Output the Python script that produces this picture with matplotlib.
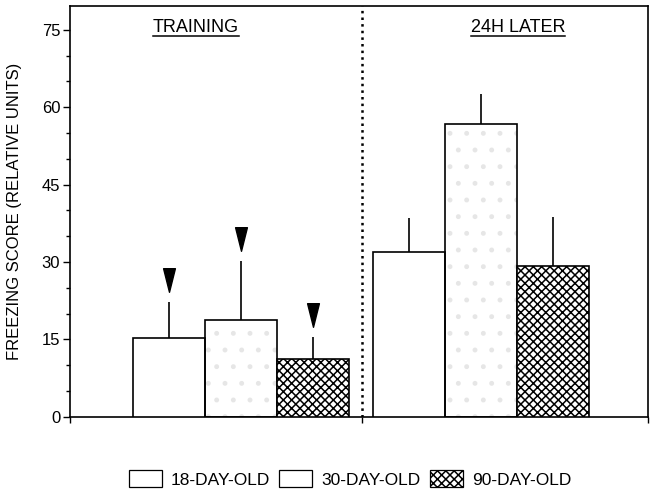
import numpy as np
import matplotlib
matplotlib.use('Agg')
import matplotlib.pyplot as plt
from matplotlib.path import Path
from matplotlib.patches import Patch
from matplotlib.lines import Line2D
from matplotlib.transforms import IdentityTransform

#data
groups = ['TRAINING', '24H LATER']
ages = ['18-DAY-OLD', '30-DAY-OLD', '90-DAY-OLD']
training_mean = [15.2, 18.7, 11.2]
training_err = [7.1, 11.5, 4.3]
later_mean = [31.9, 56.7, 29.2]
later_err = [6.6, 5.8, 9.6]

plt.rcParams['font.family'] = ['Liberation Sans', 'DejaVu Sans']
plt.rcParams['hatch.linewidth'] = 1.1

fig = plt.figure(figsize=(6.53, 4.90), dpi=100)
ax = fig.add_axes([70/653, 1-416.7/490, 578/653, 410.7/490])

#bar positions
x_train = np.arange(3)
x_later = np.arange(3) + 3.33
hatches = [None, '.', 'xxxx']
stipple = '#e6e6e6'

def draw_bars(xs, means, errs):
    for i in range(3):
        if i == 1:
            # faint stipple underneath, then black outline on top
            ax.bar(xs[i], means[i], width=1.0, color='white', hatch='.',
                   edgecolor=stipple, linewidth=0, zorder=2)
            ax.bar(xs[i], means[i], width=1.0, fill=False,
                   edgecolor='black', linewidth=1.2, zorder=3)
        else:
            ax.bar(xs[i], means[i], width=1.0, color='white',
                   hatch=hatches[i], edgecolor='black',
                   linewidth=1.2, zorder=3)
        ax.vlines(xs[i], means[i], means[i] + errs[i], color='black',
                  linewidth=1.2, zorder=3)

draw_bars(x_train, training_mean, training_err)
draw_bars(x_later, later_mean, later_err)

#arrowheads above training bars
tri = Path([(-0.5, 1.0), (0.5, 1.0), (0.0, -1.0), (-0.5, 1.0)],
           [Path.MOVETO, Path.LINETO, Path.LINETO, Path.CLOSEPOLY])
arrow_y = np.array(training_mean) + np.array(training_err) + 4.2
ax.plot(x_train, arrow_y, linestyle='none', marker=tri, markersize=17,
        color='black', zorder=4)

xmin, xmax = -1.375, 6.65
divider = 2.68
ax.set_xlim(xmin, xmax)
ax.set_ylim(0, 79.6)
ax.axvline(divider, color='black', linestyle=':', linewidth=1.8, zorder=1)

ax.set_xticks([xmin, divider, xmax])
ax.set_xticklabels([])
ax.tick_params(axis='x', direction='out', length=4, width=1)
ax.set_yticks([0, 15, 30, 45, 60, 75])
ax.set_yticks(np.arange(0, 80, 5), minor=True)
ax.tick_params(axis='y', which='major', direction='out', length=5, width=1,
               labelsize=12, pad=2)
ax.tick_params(axis='y', which='minor', direction='out', length=3, width=1)
for s in ax.spines.values():
    s.set_linewidth(1.2)

ax.set_ylabel('FREEZING SCORE (RELATIVE UNITS)', fontsize=12)
ax.yaxis.set_label_coords(-0.083, 0.5)

#group titles, underlined
titles = [fig.text(196, 490 - 27, groups[0], fontsize=13, ha='center',
                   va='center', transform=IdentityTransform()),
          fig.text(518, 490 - 27, groups[1], fontsize=13, ha='center',
                   va='center', transform=IdentityTransform())]

fig.canvas.draw()
r = fig.canvas.get_renderer()
for t in titles:
    bb = t.get_window_extent(r)
    yline = (bb.y0 - 1) / 490
    fig.add_artist(Line2D([bb.x0 / 653, bb.x1 / 653], [yline, yline],
                          color='black', linewidth=1.1))

#legend
handles = []
for i in range(3):
    handles.append(Patch(facecolor='white', edgecolor='black', linewidth=0.9,
                         hatch=hatches[i] if i != 1 else None))
fig.legend(handles, ages, loc='center', bbox_to_anchor=(350/653, 1 - 479/490),
           ncol=3, frameon=False, fontsize=12.5, handlelength=1.9,
           handleheight=1.1, handletextpad=0.55, columnspacing=0.5)

fig.savefig('out.png', dpi=100)
